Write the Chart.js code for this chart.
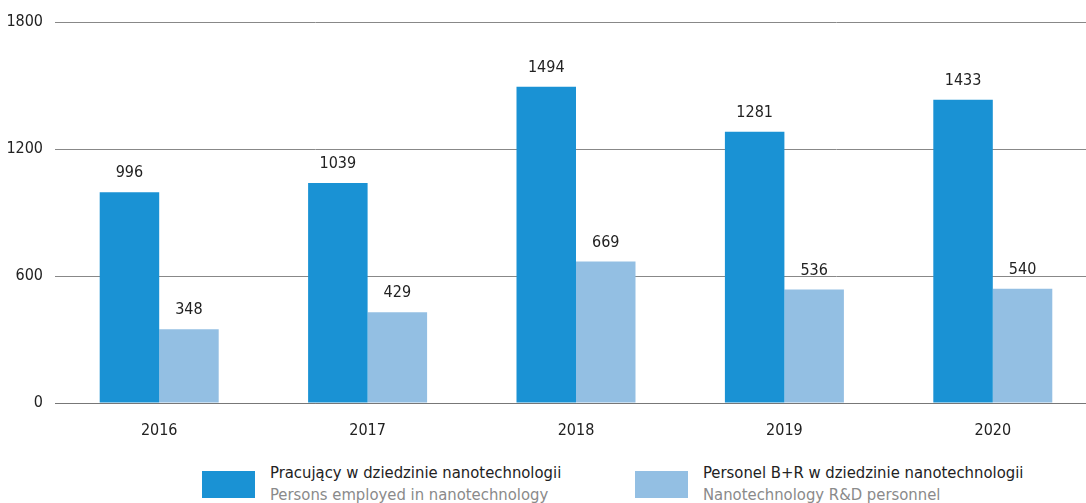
<!DOCTYPE html>
<html>
<head>
<meta charset="utf-8">
<script src="https://cdn.jsdelivr.net/npm/chart.js@4"></script>
<style>
  body { margin: 0; background: #fff; overflow: hidden; font-family: 'DejaVu Sans Condensed', sans-serif; }
  #wrap { position: absolute; left: 0; top: 0; width: 1097px; height: 440px; }
  .leg { position: absolute; top: 462px; display: flex; align-items: flex-start; }
  .sw { width: 53px; height: 27px; margin-top: 9px; margin-right: 15px; }
  .t1 { font-size: 16.5px; color: #222; line-height: 22px; }
  .t2 { font-size: 16.5px; color: #8a8a8a; line-height: 22px; }
</style>
</head>
<body>
<div id="wrap"><canvas id="myChart"></canvas></div>
<div class="leg" style="left:202px">
  <div class="sw" style="background:#1a92d4"></div>
  <div><div class="t1">Pracujący w dziedzinie nanotechnologii</div><div class="t2">Persons employed in nanotechnology</div></div>
</div>
<div class="leg" style="left:635px">
  <div class="sw" style="background:#93bfe3"></div>
  <div><div class="t1">Personel B+R w dziedzinie nanotechnologii</div><div class="t2">Nanotechnology R&amp;D personnel</div></div>
</div>
<script>
const years = ['2016', '2017', '2018', '2019', '2020'];
const employed = [996, 1039, 1494, 1281, 1433];
const rdStaff = [348, 429, 669, 536, 540];
const yTicks = [0, 600, 1200, 1800];

const fontFamily = "'DejaVu Sans Condensed', sans-serif";

// values above each bar
const valueLabels = {
    id: 'valueLabels',
    afterDatasetsDraw(chart) {
        const c = chart.ctx;
        c.save();
        c.font = '16px ' + fontFamily;
        c.fillStyle = '#222';
        c.textAlign = 'center';
        c.textBaseline = 'bottom';
        chart.data.datasets.forEach((ds, i) => {
            chart.getDatasetMeta(i).data.forEach((bar, j) => {
                c.fillText(ds.data[j], bar.x, bar.y - 11);
            });
        });
        c.restore();
    }
};

new Chart(document.getElementById('myChart'), {
    type: 'bar',
    data: {
        labels: years,
        datasets: [
            { label: 'Pracujący w dziedzinie nanotechnologii', data: employed, backgroundColor: '#1a92d4' },
            { label: 'Personel B+R w dziedzinie nanotechnologii', data: rdStaff, backgroundColor: '#93bfe3' },
        ],
    },
    options: {
        responsive: true,
        maintainAspectRatio: false,
        animation: false,
        layout: { padding: { top: 22, right: 0, left: 0, bottom: 0 } },
        datasets: { bar: { categoryPercentage: 0.571, barPercentage: 1.0 } },
        plugins: { legend: { display: false }, tooltip: { enabled: false } },
        scales: {
            x: {
                grid: { display: false, drawTicks: false },
                border: { color: '#777', width: 1 },
                ticks: { color: '#222', font: { family: fontFamily, size: 16 }, padding: 18 },
                afterFit(s) { s.height = 37; },
            },
            y: {
                min: 0,
                max: 1800,
                afterBuildTicks(s) { s.ticks = yTicks.map(v => ({ value: v })); },
                grid: { color: '#888', lineWidth: 1, drawTicks: false },
                border: { display: false },
                ticks: { color: '#222', font: { family: fontFamily, size: 16 }, padding: 12, callback: v => String(v) },
                afterFit(s) { s.width = 55; },
            },
        },
    },
    plugins: [valueLabels],
});
</script>
</body>
</html>
